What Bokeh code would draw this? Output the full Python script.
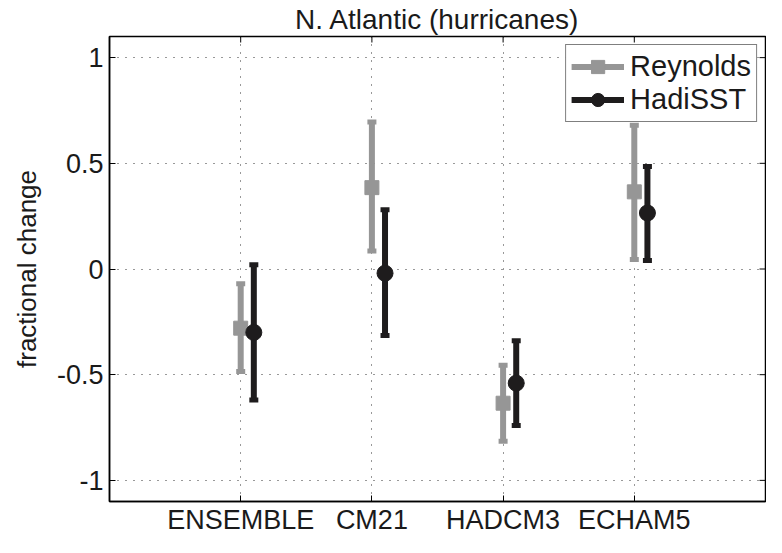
import math
from bokeh.plotting import figure
from bokeh.models import Range1d, FixedTicker, Legend, LegendItem
from bokeh.core.properties import value
from bokeh.embed import file_html
from bokeh.resources import INLINE

# ---- data ----
models = ["ENSEMBLE", "CM21", "HADCM3", "ECHAM5"]
reynolds_mid = [-0.28, 0.385, -0.635, 0.365]
reynolds_lo = [-0.485, 0.085, -0.815, 0.045]
reynolds_hi = [-0.07, 0.695, -0.455, 0.68]
hadisst_mid = [-0.30, -0.02, -0.54, 0.265]
hadisst_lo = [-0.62, -0.315, -0.74, 0.04]
hadisst_hi = [0.02, 0.28, -0.34, 0.485]
series_offset = [0.0, 0.1]
y_ticks = [-1, -0.5, 0, 0.5, 1]
y_tick_labels = ["-1", "-0.5", "0", "0.5", "1"]

FONT = "Liberation Sans"
GRAY = "#969696"
BLACK = "#1e1c1d"
TXT = "#1a1a1a"

cat_pos = [i + 1 for i in range(len(models))]
x_reyn = [c + series_offset[0] for c in cat_pos]
x_hadi = [c + series_offset[1] for c in cat_pos]

p = figure(width=766, height=537, output_backend="svg", toolbar_location=None,
           x_range=Range1d(0, 5), y_range=Range1d(-1.1, 1.1),
           min_border_left=109, min_border_right=1, min_border_top=0, min_border_bottom=0,
           title="N. Atlantic (hurricanes)")
p.background_fill_color = "white"
p.border_fill_color = "white"
p.outline_line_color = "black"
p.outline_line_width = 1.5

p.title.text_font = FONT
p.title.text_font_size = "28px"
p.title.text_font_style = "normal"
p.title.align = "center"
p.title.text_color = TXT
p.title.standoff = 3

# grid
p.xgrid.ticker = FixedTicker(ticks=cat_pos)
p.ygrid.ticker = FixedTicker(ticks=y_ticks)
for g in (p.xgrid, p.ygrid):
    g.grid_line_color = "#333333"
    g.grid_line_dash = "1 7"
    g.grid_line_width = 1

# bottom axis
xa = p.xaxis[0]
xa.ticker = FixedTicker(ticks=cat_pos)
xa.major_label_overrides = {c: m for c, m in zip(cat_pos, models)}
xa.major_label_standoff = 3
# left axis
ya = p.yaxis[0]
ya.ticker = FixedTicker(ticks=y_ticks)
ya.major_label_overrides = {t: l for t, l in zip(y_ticks, y_tick_labels)}
ya.major_label_standoff = 6
ya.axis_label = "fractional change"
ya.axis_label_text_font = FONT
ya.axis_label_text_font_size = "26px"
ya.axis_label_text_font_style = "normal"
ya.axis_label_text_color = TXT
ya.axis_label_standoff = 12

for ax in (xa, ya):
    ax.axis_line_color = "black"
    ax.axis_line_width = 1.5
    ax.major_tick_line_color = "black"
    ax.major_tick_line_width = 1
    ax.major_tick_in = 6
    ax.major_tick_out = 0
    ax.minor_tick_line_color = None
    ax.major_label_text_font = FONT
    ax.major_label_text_font_size = "27px"
    ax.major_label_text_color = TXT

# inward ticks on the top and right edges of the box
x_end = p.x_range.end
y_end = p.y_range.end
p.ray(x=[x_end] * len(y_ticks), y=y_ticks, length=6, length_units="screen",
      angle=math.pi, line_color="black", line_width=1)
p.ray(x=cat_pos, y=[y_end] * len(cat_pos), length=6, length_units="screen",
      angle=-math.pi / 2, line_color="black", line_width=1)

# error bars and markers
r_seg = p.segment(x0=x_reyn, y0=reynolds_lo, x1=x_reyn, y1=reynolds_hi,
                  line_color=GRAY, line_width=6)
p.rect(x=x_reyn + x_reyn, y=reynolds_lo + reynolds_hi, width=9, height=5,
       width_units="screen", height_units="screen", fill_color=GRAY, line_color=None)
r_sq = p.scatter(x=x_reyn, y=reynolds_mid, marker="square", size=14,
                 fill_color=GRAY, line_color=GRAY)

h_seg = p.segment(x0=x_hadi, y0=hadisst_lo, x1=x_hadi, y1=hadisst_hi,
                  line_color=BLACK, line_width=6)
p.rect(x=x_hadi + x_hadi, y=hadisst_lo + hadisst_hi, width=9, height=5,
       width_units="screen", height_units="screen", fill_color=BLACK, line_color=None)
h_ci = p.scatter(x=x_hadi, y=hadisst_mid, marker="circle", size=16,
                 fill_color=BLACK, line_color=BLACK)

legend = Legend(items=[LegendItem(label=value("Reynolds"), renderers=[r_seg, r_sq]),
                       LegendItem(label=value("HadiSST"), renderers=[h_seg, h_ci])],
                location="top_right")
legend.label_text_font = FONT
legend.label_text_font_size = "29px"
legend.label_text_color = TXT
legend.glyph_width = 53
legend.glyph_height = 33
legend.label_height = 33
legend.label_standoff = 6
legend.spacing = 0
legend.padding = 5
legend.margin = 8
legend.border_line_color = "black"
legend.border_line_width = 1.5
legend.background_fill_color = "white"
legend.background_fill_alpha = 1
p.add_layout(legend)

open("out.html", "w").write(file_html(p, INLINE))
